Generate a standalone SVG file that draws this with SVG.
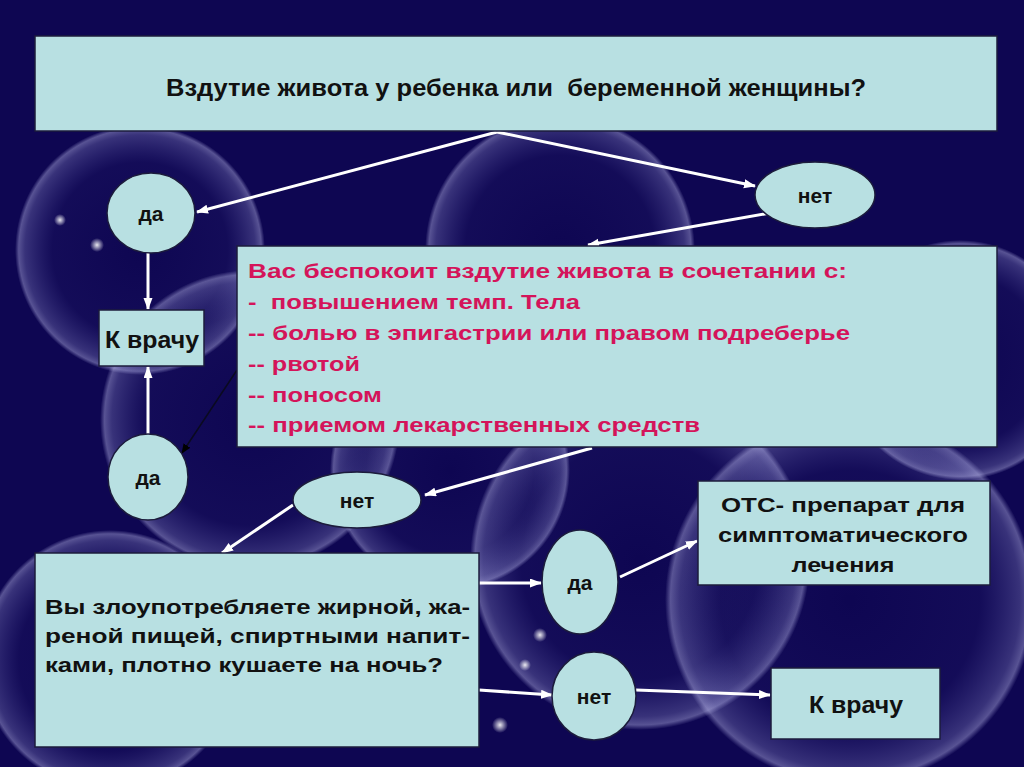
<svg xmlns="http://www.w3.org/2000/svg" width="1024" height="767" viewBox="0 0 1024 767">
<defs>
<radialGradient id="bub" cx="50%" cy="50%" r="50%">
<stop offset="0%" stop-color="#8080d0" stop-opacity="0"/>
<stop offset="70%" stop-color="#8080d0" stop-opacity="0.05"/>
<stop offset="92%" stop-color="#b0b0ec" stop-opacity="0.26"/>
<stop offset="97%" stop-color="#d0d0ff" stop-opacity="0.38"/>
<stop offset="100%" stop-color="#d0d0ff" stop-opacity="0"/>
</radialGradient>
<radialGradient id="dot" cx="50%" cy="50%" r="50%">
<stop offset="0%" stop-color="#ffffff" stop-opacity="0.9"/>
<stop offset="100%" stop-color="#ffffff" stop-opacity="0"/>
</radialGradient>
<marker id="aw" markerWidth="12" markerHeight="10" refX="11" refY="4.5" orient="auto" markerUnits="userSpaceOnUse">
<path d="M0,0 L12,4.5 L0,9 z" fill="#ffffff"/>
</marker>
<marker id="ab" markerWidth="10" markerHeight="8" refX="9" refY="4" orient="auto" markerUnits="userSpaceOnUse">
<path d="M0,0 L10,4 L0,8 z" fill="#000000"/>
</marker>
</defs>
<style>
.box{fill:#b8e0e2;stroke:#1c1c3c;stroke-width:1.5}
.t{font-family:"Liberation Sans",Arial,sans-serif;font-weight:bold;fill:#111111}
.p{font-family:"Liberation Sans",Arial,sans-serif;font-weight:bold;fill:#d4145a;font-size:21px;white-space:pre}
.c{text-anchor:middle}
.w{stroke:#ffffff;stroke-width:3;fill:none;marker-end:url(#aw)}
</style>
<rect width="1024" height="767" fill="#0e0652"/>
<g id="background">
<circle cx="140" cy="250" r="125" fill="url(#bub)"/>
<circle cx="560" cy="250" r="135" fill="url(#bub)"/>
<circle cx="250" cy="420" r="150" fill="url(#bub)"/>
<circle cx="450" cy="470" r="120" fill="url(#bub)"/>
<circle cx="640" cy="560" r="170" fill="url(#bub)"/>
<circle cx="850" cy="600" r="185" fill="url(#bub)"/>
<circle cx="110" cy="660" r="130" fill="url(#bub)"/>
<circle cx="960" cy="360" r="120" fill="url(#bub)"/>
<circle cx="60" cy="220" r="6" fill="url(#dot)"/>
<circle cx="97" cy="245" r="7" fill="url(#dot)"/>
<circle cx="540" cy="635" r="7" fill="url(#dot)"/>
<circle cx="525" cy="665" r="6" fill="url(#dot)"/>
<circle cx="500" cy="725" r="8" fill="url(#dot)"/>
</g>
<g id="connectors">
<line class="w" x1="497" y1="132" x2="197" y2="212"/>
<line class="w" x1="497" y1="132" x2="755" y2="186"/>
<line class="w" x1="770" y1="213" x2="588" y2="245"/>
<line class="w" x1="148" y1="253" x2="148" y2="309"/>
<line class="w" x1="148" y1="435" x2="148" y2="367"/>
<line x1="237" y1="370" x2="182" y2="453" stroke="#0a0a20" stroke-width="1.5" marker-end="url(#ab)"/>
<line class="w" x1="592" y1="448" x2="425" y2="495"/>
<line class="w" x1="293" y1="505" x2="222" y2="553"/>
<line class="w" x1="479" y1="583" x2="541" y2="583"/>
<line class="w" x1="620" y1="577" x2="697" y2="541"/>
<line class="w" x1="479" y1="690" x2="552" y2="695"/>
<line class="w" x1="636" y1="690" x2="770" y2="695"/>
</g>
<g id="q1">
<rect class="box" x="35" y="36" width="962" height="95"/>
<text class="t c" x="516" y="96" font-size="23" textLength="700" lengthAdjust="spacingAndGlyphs" xml:space="preserve">Вздутие живота у ребенка или  беременной женщины?</text>
</g>
<g id="yes1">
<ellipse class="box" cx="151" cy="213" rx="44" ry="40"/>
<text class="t c" x="151" y="221" font-size="21">да</text>
</g>
<g id="no1">
<ellipse class="box" cx="815" cy="195" rx="60" ry="33"/>
<text class="t c" x="815" y="203" font-size="21">нет</text>
</g>
<g id="q2">
<rect class="box" x="237" y="246" width="760" height="201"/>
<text class="p" x="248" y="278" textLength="599" lengthAdjust="spacingAndGlyphs">Вас беспокоит вздутие живота в сочетании с:</text>
<text class="p" x="248" y="309" textLength="332" lengthAdjust="spacingAndGlyphs" xml:space="preserve">-  повышением темп. Тела</text>
<text class="p" x="248" y="340" textLength="602" lengthAdjust="spacingAndGlyphs">-- болью в эпигастрии или правом подреберье</text>
<text class="p" x="248" y="371" textLength="112" lengthAdjust="spacingAndGlyphs">-- рвотой</text>
<text class="p" x="248" y="402" textLength="134" lengthAdjust="spacingAndGlyphs">-- поносом</text>
<text class="p" x="248" y="432" textLength="452" lengthAdjust="spacingAndGlyphs">-- приемом лекарственных средств</text>
</g>
<g id="doctor1">
<rect class="box" x="99" y="310" width="105" height="56"/>
<text class="t c" x="152" y="348" font-size="23" textLength="94" lengthAdjust="spacingAndGlyphs">К врачу</text>
</g>
<g id="yes2">
<ellipse class="box" cx="148" cy="477" rx="40" ry="43"/>
<text class="t c" x="148" y="485" font-size="21">да</text>
</g>
<g id="no2">
<ellipse class="box" cx="357" cy="500" rx="64" ry="28"/>
<text class="t c" x="357" y="508" font-size="21">нет</text>
</g>
<g id="q3">
<rect class="box" x="35" y="553" width="444" height="194"/>
<text class="t" x="45" y="614" font-size="21" textLength="425" lengthAdjust="spacingAndGlyphs">Вы злоупотребляете жирной, жа-</text>
<text class="t" x="45" y="643" font-size="21" textLength="425" lengthAdjust="spacingAndGlyphs">реной пищей, спиртными напит-</text>
<text class="t" x="45" y="672" font-size="21" textLength="398" lengthAdjust="spacingAndGlyphs">ками, плотно кушаете на ночь?</text>
</g>
<g id="yes3">
<ellipse class="box" cx="580" cy="582" rx="38" ry="52"/>
<text class="t c" x="580" y="590" font-size="21">да</text>
</g>
<g id="otc">
<rect class="box" x="698" y="481" width="292" height="104"/>
<text class="t c" x="843" y="512" font-size="21" textLength="244" lengthAdjust="spacingAndGlyphs">ОТС- препарат для</text>
<text class="t c" x="843" y="542" font-size="21" textLength="250" lengthAdjust="spacingAndGlyphs">симптоматического</text>
<text class="t c" x="843" y="572" font-size="21" textLength="103" lengthAdjust="spacingAndGlyphs">лечения</text>
</g>
<g id="no3">
<ellipse class="box" cx="594" cy="696" rx="42" ry="44"/>
<text class="t c" x="594" y="704" font-size="21">нет</text>
</g>
<g id="doctor2">
<rect class="box" x="771" y="668" width="169" height="71"/>
<text class="t c" x="856" y="713" font-size="23" textLength="94" lengthAdjust="spacingAndGlyphs">К врачу</text>
</g>
</svg>
